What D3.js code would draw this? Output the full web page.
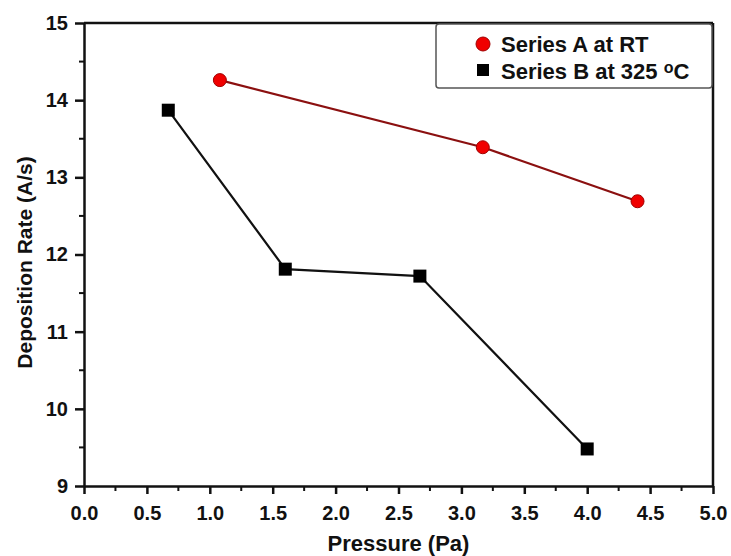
<!DOCTYPE html>
<html>
<head>
<meta charset="utf-8">
<script src="https://cdn.jsdelivr.net/npm/d3@7"></script>
<style>
  body { margin: 0; background: #fff; }
  text { font-family: "Liberation Sans", Arial, sans-serif; font-weight: bold; fill: #111; }
</style>
</head>
<body>
<svg width="731" height="556"></svg>
<script>
// data
var seriesA_x = [1.08, 3.17, 4.40];
var seriesA_y = [14.26, 13.39, 12.69];
var seriesB_x = [0.67, 1.60, 2.67, 4.00];
var seriesB_y = [13.87, 11.81, 11.72, 9.48];
var xTicks = [0, 0.5, 1, 1.5, 2, 2.5, 3, 3.5, 4, 4.5, 5];
var yTicks = [9, 10, 11, 12, 13, 14, 15];
var legendLabels = ["Series A at RT", "Series B at 325 "];

var svg = d3.select("svg");
var pLeft = 84, pRight = 713, pTop = 23, pBottom = 486;

var x = d3.scaleLinear().domain([0, 5]).range([pLeft, pRight]);
var y = d3.scaleLinear().domain([9, 15]).range([pBottom, pTop]);

// minor ticks
var xMinor = d3.range(0.25, 5, 0.5);
var yMinor = d3.range(9.5, 15, 1);

svg.append("g").selectAll("line").data(xMinor).enter().append("line")
  .attr("x1", function(d){ return x(d); }).attr("x2", function(d){ return x(d); })
  .attr("y1", pBottom).attr("y2", pBottom + 5)
  .attr("stroke", "#111").attr("stroke-width", 2);
svg.append("g").selectAll("line").data(yMinor).enter().append("line")
  .attr("y1", function(d){ return y(d); }).attr("y2", function(d){ return y(d); })
  .attr("x1", pLeft).attr("x2", pLeft - 5)
  .attr("stroke", "#111").attr("stroke-width", 2);

// axes
var xAxis = svg.append("g").attr("transform", "translate(0," + pBottom + ")")
  .call(d3.axisBottom(x).tickValues(xTicks).tickFormat(d3.format(".1f")).tickSizeInner(8).tickSizeOuter(0).tickPadding(12));
var yAxis = svg.append("g").attr("transform", "translate(" + pLeft + ",0)")
  .call(d3.axisLeft(y).tickValues(yTicks).tickFormat(d3.format("d")).tickSizeInner(9).tickSizeOuter(0).tickPadding(7));

[xAxis, yAxis].forEach(function(g){
  g.attr("font-size", 20).attr("font-family", "'Liberation Sans', Arial, sans-serif");
  g.select(".domain").attr("stroke", "#111").attr("stroke-width", 2.5);
  g.selectAll(".tick line").attr("stroke", "#111").attr("stroke-width", 2.5);
  g.selectAll(".tick text").attr("fill", "#111").style("font-weight", "bold");
});

// top and right frame
svg.append("line").attr("x1", pLeft).attr("x2", pRight).attr("y1", pTop).attr("y2", pTop)
  .attr("stroke", "#111").attr("stroke-width", 2.5);
svg.append("line").attr("x1", pRight).attr("x2", pRight).attr("y1", pTop).attr("y2", pBottom)
  .attr("stroke", "#111").attr("stroke-width", 2.5);

// axis titles
svg.append("text").attr("x", (pLeft + pRight) / 2).attr("y", 551)
  .attr("text-anchor", "middle").attr("font-size", 22).text("Pressure (Pa)");
svg.append("text").attr("transform", "translate(32," + ((pTop + pBottom) / 2 + 8) + ") rotate(-90)")
  .attr("text-anchor", "middle").attr("font-size", 21).text("Deposition Rate (A/s)");

// lines
var dataA = seriesA_x.map(function(d, i){ return [d, seriesA_y[i]]; });
var dataB = seriesB_x.map(function(d, i){ return [d, seriesB_y[i]]; });
var line = d3.line().x(function(d){ return x(d[0]); }).y(function(d){ return y(d[1]); });

svg.append("path").datum(dataA).attr("d", line)
  .attr("fill", "none").attr("stroke", "#8b1010").attr("stroke-width", 2.2);
svg.append("path").datum(dataB).attr("d", line)
  .attr("fill", "none").attr("stroke", "#111").attr("stroke-width", 2.2);

svg.append("g").selectAll("circle").data(dataA).enter().append("circle")
  .attr("cx", function(d){ return x(d[0]); }).attr("cy", function(d){ return y(d[1]); })
  .attr("r", 6.5).attr("fill", "#f00000").attr("stroke", "#a00000").attr("stroke-width", 1);
svg.append("g").selectAll("rect").data(dataB).enter().append("rect")
  .attr("x", function(d){ return x(d[0]) - 6.5; }).attr("y", function(d){ return y(d[1]) - 6.5; })
  .attr("width", 13).attr("height", 13).attr("fill", "#000");

// legend
var lg = svg.append("g");
lg.append("rect").attr("x", 436).attr("y", 24).attr("width", 276).attr("height", 64).attr("rx", 3)
  .attr("fill", "#fff").attr("stroke", "#555").attr("stroke-width", 1.5);
lg.append("circle").attr("cx", 483).attr("cy", 44).attr("r", 7)
  .attr("fill", "#f00000").attr("stroke", "#a00000").attr("stroke-width", 1);
lg.append("rect").attr("x", 477).attr("y", 64).attr("width", 12).attr("height", 12).attr("fill", "#000");
lg.append("text").attr("x", 501).attr("y", 52).attr("font-size", 22).text(legendLabels[0]);
var t2 = lg.append("text").attr("x", 501).attr("y", 79).attr("font-size", 22).text(legendLabels[1]);
t2.append("tspan").attr("font-size", 16).attr("dy", -6).text("o");
t2.append("tspan").attr("dy", 6).text("C");
</script>
</body>
</html>
